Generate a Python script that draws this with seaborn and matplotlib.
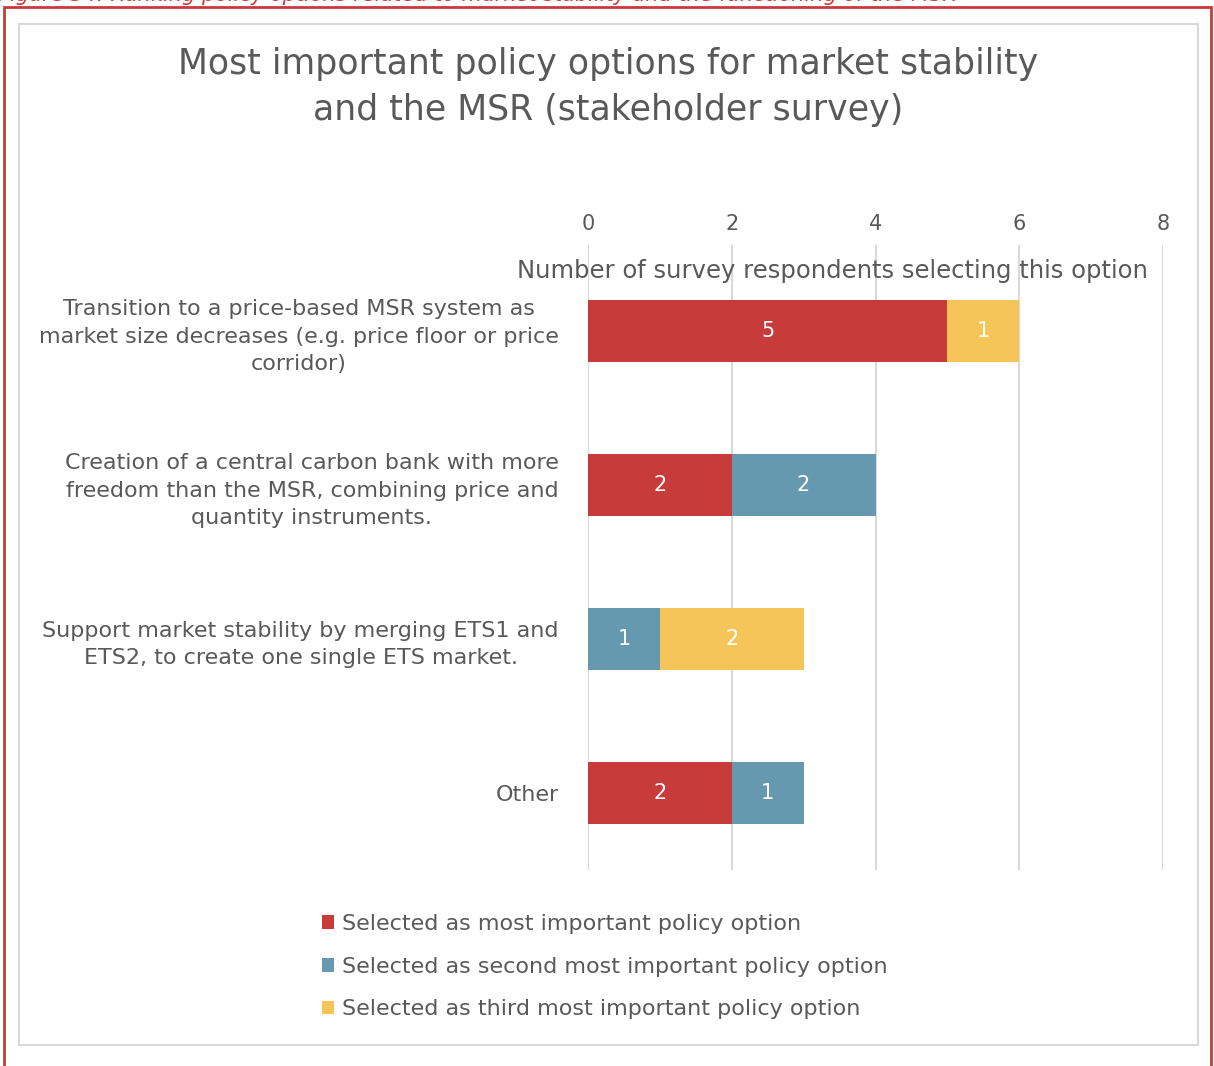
import matplotlib
matplotlib.use("Agg")
import matplotlib.pyplot as plt
from matplotlib.patches import Patch, Rectangle
import numpy as np
import pandas as pd
import seaborn as sns

# Survey results: count of respondents per policy option and ranking
categories = [
    "Transition to a price-based MSR system as\nmarket size decreases (e.g. price floor or price\ncorridor)",
    "Creation of a central carbon bank with more\nfreedom than the MSR, combining price and\nquantity instruments.",
    "Support market stability by merging ETS1 and\nETS2, to create one single ETS market.",
    "Other",
]
most_important = [5, 2, 0, 2]
second_important = [0, 2, 1, 1]
third_important = [1, 0, 2, 0]

series_names = [
    "Selected as most important policy option",
    "Selected as second most important policy option",
    "Selected as third most important policy option",
]
series_colors = ["#C73B3B", "#6699B0", "#F6C55A"]
x_ticks = [0, 2, 4, 6, 8]

title = "Most important policy options for market stability\nand the MSR (stakeholder survey)"
x_label = "Number of survey respondents selecting this option"
caption = "Figure 34: Ranking policy options related to market stability and the functioning of the MSR"

TEXT = "#595959"
GRID = "#D9D9D9"

sns.set_theme(style="white")
plt.rcParams["font.family"] = ["DejaVu Sans"]

W, H = 1214, 1066
fig = plt.figure(figsize=(W / 100, H / 100), dpi=100)

def px_box(x0, y0, x1, y1):
    return [x0 / W, 1 - y1 / H, (x1 - x0) / W, (y1 - y0) / H]

ax = fig.add_axes(px_box(588, 245, 1163, 870))

df = pd.DataFrame({
    "option": categories,
    "first": most_important,
    "second": second_important,
    "third": third_important,
})
df["cum1"] = df["first"]
df["cum2"] = df["first"] + df["second"]
df["cum3"] = df["cum2"] + df["third"]

# Stacked bars: draw cumulative totals from the back to the front
for col, color in zip(["cum3", "cum2", "cum1"], series_colors[::-1]):
    sns.barplot(data=df, x=col, y="option", orient="h", color=color,
                width=0.4, saturation=1, ax=ax, zorder=3, linewidth=0)

# Segment value labels
for i, row in df.iterrows():
    start = 0
    for v in (row["first"], row["second"], row["third"]):
        if v > 0:
            ax.text(start + v / 2, i, f"{v}", ha="center", va="center",
                    color="white", fontsize=15, zorder=5)
        start += v

ax.set_xlim(0, 8)
ax.set_ylim(3.5, -0.5 - 9 / 154)
ax.set_xticks(x_ticks)
ax.xaxis.tick_top()
ax.tick_params(axis="x", length=0, pad=8, labelsize=15, labelcolor=TEXT)
ax.tick_params(axis="y", length=0, pad=21, labelsize=16, labelcolor=TEXT)
for lbl in ax.get_yticklabels():
    lbl.set_multialignment("center")
    lbl.set_linespacing(1.45)
ax.set_xlabel("")
ax.set_ylabel("")
ax.grid(axis="x", color=GRID, linewidth=1.5, zorder=0)
ax.grid(axis="y", visible=False)
for s in ax.spines.values():
    s.set_visible(False)

ax.text((832 - 588) / 575, 1 - (271 - 245) / 625, x_label,
        transform=ax.transAxes, ha="center", va="center",
        fontsize=17.5, color=TEXT, zorder=4)

fig.text(608 / W, 1 - 87 / H, title, ha="center", va="center",
         fontsize=25, color=TEXT, linespacing=1.45)

handles = [Patch(facecolor=c, edgecolor="none") for c in series_colors]
fig.legend(handles, series_names, loc="upper left",
           bbox_to_anchor=(302 / W, 1 - 894 / H), frameon=False,
           fontsize=16, labelcolor=TEXT, handlelength=0.55,
           handleheight=0.55, handletextpad=0.35, labelspacing=1.02)

# Chart frame and outer border
fig.patches.append(Rectangle((19 / W, 1 - 1045 / H), (1198 - 19) / W,
                             (1045 - 24) / H, transform=fig.transFigure,
                             fill=False, edgecolor=GRID, linewidth=1.5))
fig.patches.append(Rectangle((4 / W, -0.05), (1211 - 4) / W,
                             1.05 - 7 / H, transform=fig.transFigure,
                             fill=False, edgecolor="#C73B3B", linewidth=2))

fig.text(-2 / W, 1 - 1 / H, caption, ha="left", va="baseline",
         fontsize=15, style="italic", color="#D0393B")

fig.savefig("out.png", dpi=100)
